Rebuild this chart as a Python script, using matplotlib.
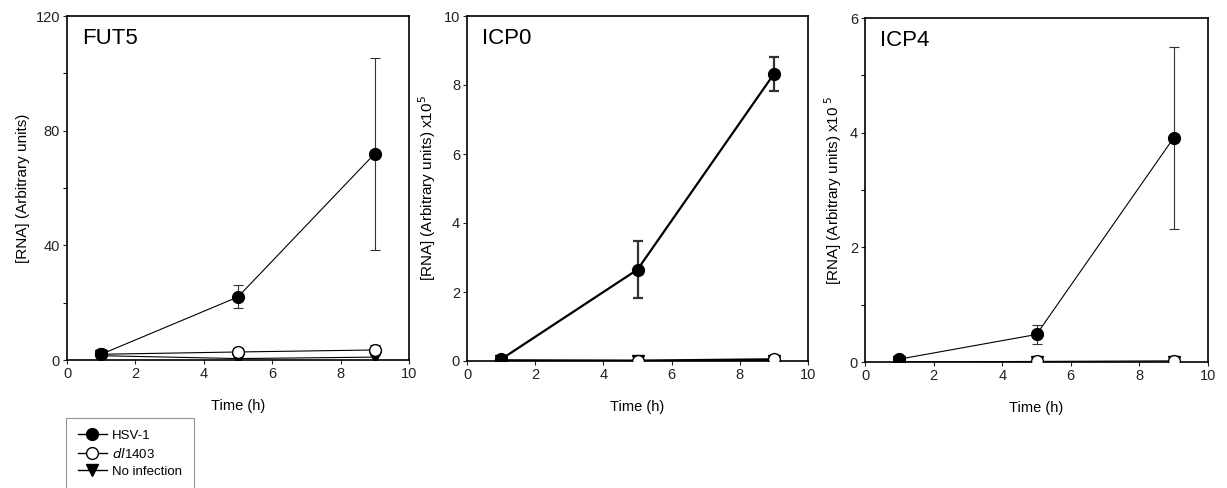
import matplotlib
matplotlib.use("Agg")
import matplotlib.pyplot as plt
from matplotlib.lines import Line2D
from matplotlib.ticker import MultipleLocator

plt.rcParams['font.family'] = ['Liberation Sans', 'DejaVu Sans']

time_h = [1, 5, 9]

# FUT5
fut5_hsv = [2.0, 22.0, 72.0]
fut5_hsv_err_lo = [1.5, 4.0, 33.5]
fut5_hsv_err_hi = [1.5, 4.0, 33.5]
fut5_dl = [2.0, 2.8, 3.5]
fut5_dl_err = [1.8, 1.5, 1.8]
fut5_none = [1.5, 0.5, 1.0]

# ICP0 (x10^5)
icp0_hsv = [0.05, 2.65, 8.32]
icp0_hsv_err = [0.03, 0.83, 0.48]
icp0_dl = [0.02, 0.01, 0.05]
icp0_none = [0.0, 0.0, 0.0]

# ICP4 (x10^5)
icp4_hsv = [0.05, 0.48, 3.91]
icp4_hsv_err = [0.02, 0.17, 1.59]
icp4_dl = [0.0, 0.01, 0.02]
icp4_none = [0.0, 0.0, 0.0]

titles = ["FUT5", "ICP0", "ICP4"]
ylabels = ["[RNA] (Arbitrary units)", "[RNA] (Arbitrary units) x10$^5$", "[RNA] (Arbitrary units) x10$^{\\ 5}$"]
legend_labels = ["HSV-1", "$\\it{dl}$1403", "No infection"]

W, H = 1227, 488
fig = plt.figure(figsize=(W / 100, H / 100), dpi=100)

def ax_at(l, t, r, b):
    return fig.add_axes([l / W, 1 - b / H, (r - l) / W, (b - t) / H])

axes = [ax_at(67, 16, 409, 360), ax_at(467, 16, 808, 361), ax_at(865, 18, 1208, 362)]

panels = [
    (fut5_hsv, [fut5_hsv_err_lo, fut5_hsv_err_hi], fut5_dl, fut5_dl_err, fut5_none, 0.8, (0, 120), 40, 20),
    (icp0_hsv, icp0_hsv_err, icp0_dl, None, icp0_none, 1.6, (0, 10), 2, None),
    (icp4_hsv, icp4_hsv_err, icp4_dl, None, icp4_none, 0.8, (0, 6), 2, 1),
]

ms = 8.5
for ax, title, ylab, (hsv, herr, dl, dlerr, none, lw, ylim, major, minor) in zip(axes, titles, ylabels, panels):
    ax.errorbar(time_h, none, fmt='-v', color='black', mfc='black', mec='black', ms=ms, lw=lw, zorder=3)
    ax.errorbar(time_h, dl, yerr=dlerr, fmt='-o', color='black', mfc='white', mec='black', ms=ms, lw=lw,
                capsize=3.5, elinewidth=0.8, capthick=0.8, zorder=4)
    ax.errorbar(time_h, hsv, yerr=herr, fmt='-o', color='black', mfc='black', mec='black', ms=ms, lw=lw,
                ecolor='#333333', capsize=3.5, elinewidth=lw if lw > 1 else 0.8,
                capthick=lw if lw > 1 else 0.8, zorder=5)
    ax.set_xlim(0, 10)
    ax.set_ylim(*ylim)
    ax.xaxis.set_major_locator(MultipleLocator(2))
    ax.yaxis.set_major_locator(MultipleLocator(major))
    if minor:
        ax.yaxis.set_minor_locator(MultipleLocator(minor))
    ax.tick_params(direction='out', length=3, width=0.8, labelsize=10.5, pad=2, colors='#222222')
    ax.tick_params(which='minor', direction='out', length=3, width=0.8)
    for sp in ax.spines.values():
        sp.set_linewidth(1.2)
    ax.text(0.045, 0.965, title, transform=ax.transAxes, fontsize=16, va='top', ha='left')
    ax.set_xlabel("Time (h)", fontsize=10.5, labelpad=13)
    ax.set_ylabel(ylab, fontsize=11, labelpad=4)

handles = [
    Line2D([], [], color='black', marker='o', mfc='black', mec='black', ms=8.5, lw=1),
    Line2D([], [], color='black', marker='o', mfc='white', mec='black', ms=8.5, lw=1),
    Line2D([], [], color='black', marker='v', mfc='black', mec='black', ms=8.5, lw=1),
]
leg = fig.legend(handles, legend_labels, loc='upper left', bbox_to_anchor=(66 / W, 1 - 418 / H),
                 fontsize=9.5, frameon=True, fancybox=False, edgecolor='#777777',
                 handlelength=2.2, handletextpad=0.4, labelspacing=0.35, borderpad=0.9,
                 borderaxespad=0)
leg.get_frame().set_linewidth(0.8)

fig.savefig("out.png", dpi=100)
